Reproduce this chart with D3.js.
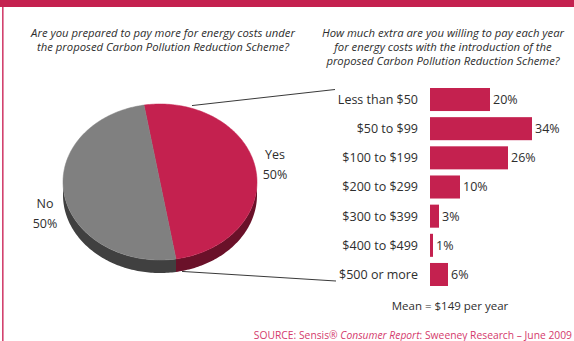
<!DOCTYPE html>
<html>
<head>
<meta charset="utf-8">
<script src="https://cdn.jsdelivr.net/npm/d3@7"></script>
<style>
  html, body { margin: 0; padding: 0; background: #fff; }
  svg { display: block; font-family: "Open Sans", "Noto Sans", sans-serif; }
</style>
</head>
<body>
<svg id="chart" width="574" height="341"></svg>
<script>
// Survey answers: willingness to pay more
const pieCategories = ["Yes", "No"];
const pieValues = [50, 50];

// How much extra per year
const barCategories = ["Less than $50", "$50 to $99", "$100 to $199", "$200 to $299",
                       "$300 to $399", "$400 to $499", "$500 or more"];
const barValues = [20, 34, 26, 10, 3, 1, 6];

const leftTitle = ["Are you prepared to pay more for energy costs under",
                   "the proposed Carbon Pollution Reduction Scheme?"];
const rightTitle = ["How much extra are you willing to pay each year",
                    "for energy costs with the introduction of the",
                    "proposed Carbon Pollution Reduction Scheme?"];
const meanNote = "Mean = $149 per year";

const crimson = "#c4214f";
const textColor = "#2e2e2e";

const svg = d3.select("#chart");

// frame: top band and left rule
svg.append("rect").attr("x", 0).attr("y", 0).attr("width", 574).attr("height", 7).attr("fill", crimson);
svg.append("rect").attr("x", 2).attr("y", 7).attr("width", 1.6).attr("height", 334).attr("fill", "#d2426e");

// titles
const tL = svg.append("text").attr("text-anchor", "middle").attr("font-style", "italic")
  .attr("font-size", 11.3).attr("fill", textColor);
leftTitle.forEach((s, i) => tL.append("tspan").attr("x", 163).attr("y", 37 + i * 14).text(s));
const tR = svg.append("text").attr("text-anchor", "middle").attr("font-style", "italic")
  .attr("font-size", 11.3).attr("fill", textColor);
rightTitle.forEach((s, i) => tR.append("tspan").attr("x", 443).attr("y", 37 + i * 14).text(s));

// ---- 3D pie ----
const cx = 160, cy = 182, rx = 97, ry = 78, depth = 13;
const rot = -9.5 * Math.PI / 180;
const pie = d3.pie().sort(null).startAngle(rot).endAngle(rot + 2 * Math.PI);
const arcs = pie(pieValues);
const topColors = { Yes: crimson, No: "#808080" };
const sideColors = { Yes: "#6a1129", No: "#404040" };

const ex = a => cx + rx * Math.sin(a);
const ey = (a, dz = 0) => cy - ry * Math.cos(a) + dz;
function arcPoints(a0, a1, dz) {
  const n = Math.max(2, Math.ceil(Math.abs(a1 - a0) / 0.02));
  return d3.range(n + 1).map(i => {
    const a = a0 + (a1 - a0) * i / n;
    return [ex(a), ey(a, dz)];
  });
}

const pieG = svg.append("g");
// side walls (front half only)
arcs.forEach((d, i) => {
  const a0 = Math.max(d.startAngle, Math.PI / 2);
  const a1 = Math.min(d.endAngle, 3 * Math.PI / 2);
  if (a1 <= a0) return;
  const pts = arcPoints(a0, a1, 0).concat(arcPoints(a1, a0, depth));
  pieG.append("path").attr("d", d3.line()(pts) + "Z").attr("fill", sideColors[pieCategories[i]]);
});
// top faces
arcs.forEach((d, i) => {
  const pts = [[cx, cy]].concat(arcPoints(d.startAngle, d.endAngle, 0));
  pieG.append("path").attr("d", d3.line()(pts) + "Z")
    .attr("fill", topColors[pieCategories[i]])
    .attr("stroke", topColors[pieCategories[i]]).attr("stroke-width", 0.5);
});

// pie labels
const pieLabelPos = { Yes: [275, 159], No: [45, 208] };
pieCategories.forEach((c, i) => {
  const t = svg.append("text").attr("text-anchor", "middle").attr("font-size", 12.5).attr("fill", textColor);
  t.append("tspan").attr("x", pieLabelPos[c][0]).attr("y", pieLabelPos[c][1]).text(c);
  t.append("tspan").attr("x", pieLabelPos[c][0]).attr("y", pieLabelPos[c][1] + 20).text(pieValues[i] + "%");
});

// ---- bars ----
const x = d3.scaleLinear().domain([0, 34]).range([430, 532]);
const y = d3.scaleBand().domain(barCategories).range([88, 286]).paddingInner(0.21).paddingOuter(0);

// leader lines from the Yes slice to the breakdown
const yesArc = arcs[0];
svg.append("line").attr("x1", ex(yesArc.startAngle) + 48).attr("y1", ey(yesArc.startAngle) + 0.5)
  .attr("x2", 335).attr("y2", y(barCategories[0]) + 1.5)
  .attr("stroke", "#222").attr("stroke-width", 0.9);
svg.append("line").attr("x1", ex(yesArc.endAngle) + 6).attr("y1", ey(yesArc.endAngle, depth) - 0.5)
  .attr("x2", 336).attr("y2", y(barCategories[6]) + y.bandwidth() - 5)
  .attr("stroke", "#222").attr("stroke-width", 0.9);

const rows = svg.append("g").selectAll("g").data(barCategories).join("g");
rows.append("rect")
  .attr("x", x(0)).attr("y", d => y(d))
  .attr("width", (d, i) => x(barValues[i]) - x(0))
  .attr("height", y.bandwidth())
  .attr("fill", crimson);
rows.append("text")
  .attr("x", 418).attr("y", d => y(d) + y.bandwidth() / 2)
  .attr("dy", "0.35em").attr("text-anchor", "end")
  .attr("font-size", 12.5).attr("fill", textColor).text(d => d);
rows.append("text")
  .attr("x", (d, i) => x(barValues[i]) + 3).attr("y", d => y(d) + y.bandwidth() / 2)
  .attr("dy", "0.35em")
  .attr("font-size", 12.5).attr("fill", textColor).text((d, i) => barValues[i] + "%");

svg.append("text").attr("x", 450).attr("y", 310).attr("text-anchor", "middle")
  .attr("font-size", 11.5).attr("fill", textColor).text(meanNote);

// source line
const src = svg.append("text").attr("x", 572).attr("y", 339).attr("text-anchor", "end")
  .attr("font-size", 10.3).attr("fill", "#d43a6c");
src.append("tspan").text("SOURCE: Sensis® ");
src.append("tspan").attr("font-style", "italic").text("Consumer Report");
src.append("tspan").text(": Sweeney Research – June 2009");
</script>
</body>
</html>
